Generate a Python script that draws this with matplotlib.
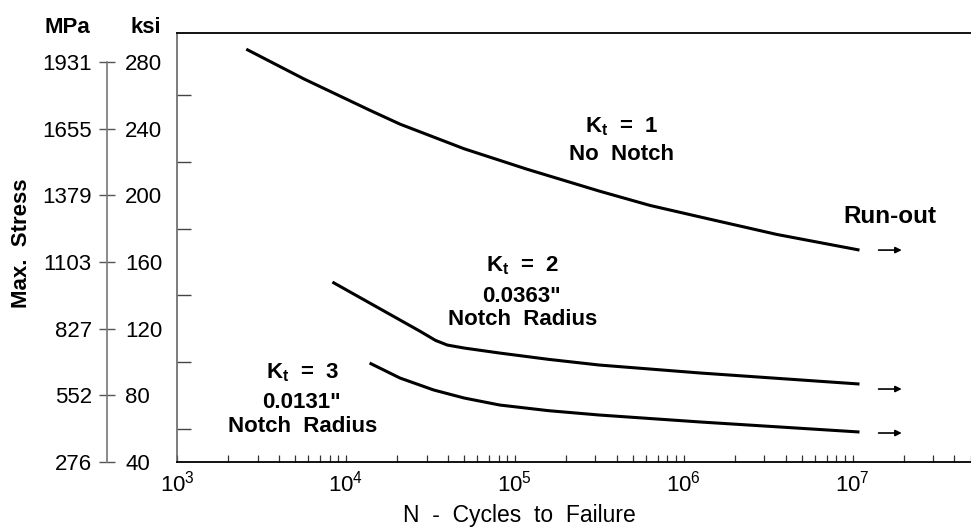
import numpy as np
import matplotlib
matplotlib.use("Agg")
import matplotlib.pyplot as plt
from matplotlib.ticker import LogLocator, NullFormatter, FixedLocator

plt.rcParams['font.family'] = ['Liberation Sans', 'DejaVu Sans']
plt.rcParams['mathtext.fontset'] = 'custom'
plt.rcParams['mathtext.rm'] = 'Liberation Sans'
plt.rcParams['mathtext.bf'] = 'Liberation Sans:bold'
plt.rcParams['mathtext.it'] = 'Liberation Sans:italic'

# S-N curves: log10(cycles) vs max stress (ksi)
kt1_logn = [3.41, 3.75, 4.14, 4.32, 4.70, 5.07, 5.50, 5.80, 6.10, 6.55, 7.04]
kt1_ksi = [287.8, 270.0, 251.2, 242.8, 228.0, 215.8, 202.6, 194.0, 187.0, 176.6, 167.2]

kt2_logn = [3.92, 4.44, 4.53, 4.60, 4.70, 4.91, 5.20, 5.50, 6.10, 7.04]
kt2_ksi = [148.0, 118.4, 113.0, 110.2, 108.4, 105.4, 101.6, 98.2, 93.4, 86.8]

kt3_logn = [4.14, 4.32, 4.52, 4.70, 4.91, 5.20, 5.50, 6.10, 7.04]
kt3_ksi = [99.4, 90.4, 83.2, 78.4, 74.2, 70.8, 68.2, 64.0, 58.0]

# run-out arrows (ksi level)
runout_ksi = [167.2, 83.8, 57.4]

# stress scale
ksi_ticks = [40, 80, 120, 160, 200, 240, 280]
mpa_labels = ['276', '552', '827', '1103', '1379', '1655', '1931']
ksi_minor = [60, 100, 140, 180, 220, 260]

W, H = 971, 528
FS = 16


def fx(px):
    return px / W


def fy(py):
    return 1 - py / H


fig = plt.figure(figsize=(W / 100, H / 100), dpi=100)
bottom = fy(462)
height = (462 - 33) / H
ax = fig.add_axes([fx(177), bottom, 1 - fx(177), height])
ax.set_xscale('log')
ax.set_xlim(1e3, 10 ** 7.70)
ax.set_ylim(40, 297.5)

for logn, ksi in [(kt1_logn, kt1_ksi), (kt2_logn, kt2_ksi), (kt3_logn, kt3_ksi)]:
    ax.plot(10 ** np.array(logn), ksi, color='black', lw=2.2,
            solid_capstyle='butt', solid_joinstyle='round')

# run-out arrows just after the 10^7 end of each curve
ends = [kt1_logn[-1], kt2_logn[-1], kt3_logn[-1]]
for e, k in zip(ends, runout_ksi):
    ax.annotate('', xy=(10 ** (e + 0.25), k), xytext=(10 ** (e + 0.113), k),
                arrowprops=dict(arrowstyle='-|>', lw=1.2, color='black',
                                mutation_scale=9, shrinkA=0, shrinkB=0))

ax.spines['right'].set_visible(False)
ax.spines['top'].set_linewidth(1.3)
ax.spines['bottom'].set_linewidth(1.3)
ax.spines['left'].set_color('#666666')
ax.spines['left'].set_linewidth(1.2)

ax.set_yticks(ksi_minor)
ax.set_yticklabels([])
ax.tick_params(axis='y', direction='in', length=10, width=1, color='#444444')

ax.xaxis.set_major_locator(LogLocator(base=10, numticks=10))
ax.xaxis.set_minor_locator(LogLocator(base=10, subs=np.arange(2, 10), numticks=20))
ax.xaxis.set_minor_formatter(NullFormatter())
ax.tick_params(axis='x', which='both', direction='in', length=5, width=0.9,
               labelsize=FS, pad=6, color='#333333')

# separate MPa / ksi scale on the left
sax = fig.add_axes([fx(107), bottom, 0.0001, height])
sax.set_ylim(40, 297.5)
sax.set_xticks([])
for s in ['right', 'top', 'bottom']:
    sax.spines[s].set_visible(False)
sax.spines['left'].set_bounds(40, 280)
sax.spines['left'].set_color('#777777')
sax.spines['left'].set_linewidth(1.2)
sax.yaxis.set_major_locator(FixedLocator(ksi_ticks))
sax.set_yticklabels(mpa_labels)
sax.tick_params(axis='y', direction='inout', length=11, width=1, color='#555555',
                labelsize=FS, pad=5.5)

rax = sax.twinx()
rax.set_ylim(40, 297.5)
for s in rax.spines.values():
    s.set_visible(False)
rax.yaxis.set_major_locator(FixedLocator(ksi_ticks))
rax.set_yticklabels([str(v) for v in ksi_ticks])
rax.tick_params(axis='y', length=0, labelsize=FS, pad=13)

fig.text(fx(67), fy(33), 'MPa', ha='center', va='baseline', fontsize=FS, fontweight='bold')
fig.text(fx(146), fy(33), 'ksi', ha='center', va='baseline', fontsize=FS, fontweight='bold')
fig.text(fx(22), fy(243), 'Max.  Stress', ha='center', va='center', rotation=90,
         fontsize=FS, fontweight='bold')
fig.text(fx(519), fy(522), 'N  -  Cycles  to  Failure', ha='center', va='baseline',
         fontsize=FS + 0.5)

labels = [
    (622, 132, r'$\mathbf{K}_{\mathbf{t}}$  =  1'),
    (621, 160, 'No  Notch'),
    (523, 271, r'$\mathbf{K}_{\mathbf{t}}$  =  2'),
    (521, 302, '0.0363"'),
    (523, 325, 'Notch  Radius'),
    (303, 378, r'$\mathbf{K}_{\mathbf{t}}$  =  3'),
    (301, 408, '0.0131"'),
    (303, 432, 'Notch  Radius'),
]
for x, y, s in labels:
    fig.text(fx(x), fy(y), s, ha='center', va='baseline', fontsize=FS, fontweight='bold')
fig.text(fx(890), fy(223), 'Run-out', ha='center', va='baseline', fontsize=FS + 1.5,
         fontweight='bold')

fig.savefig('out.png', dpi=100)
